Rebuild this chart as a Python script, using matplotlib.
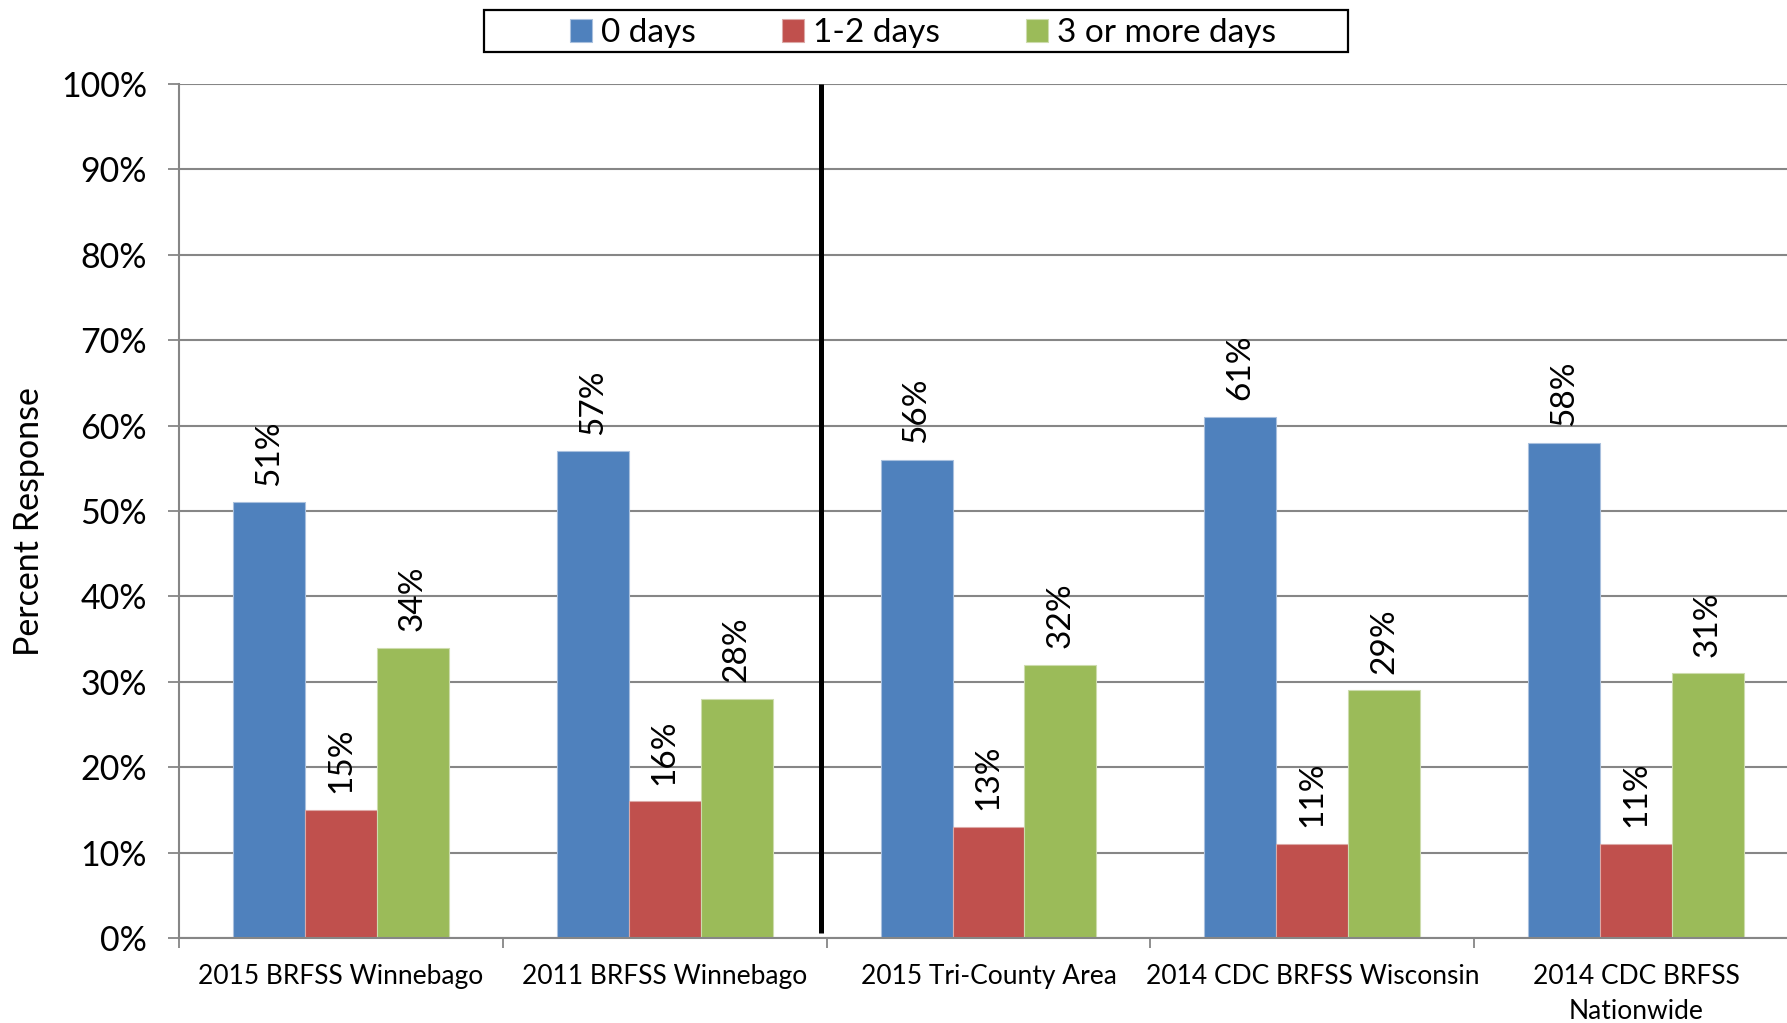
import matplotlib
matplotlib.use("Agg")
import matplotlib.pyplot as plt
import numpy as np
from matplotlib.patches import Rectangle

plt.rcParams['font.family'] = ['Lato', 'DejaVu Sans']

categories = ["2015 BRFSS Winnebago", "2011 BRFSS Winnebago", "2015 Tri-County Area",
              "2014 CDC BRFSS Wisconsin", "2014 CDC BRFSS\nNationwide"]
series_names = ["0 days", "1-2 days", "3 or more days"]
zero_days = [51, 57, 56, 61, 58]
one_two_days = [15, 16, 13, 11, 11]
three_plus_days = [34, 28, 32, 29, 31]
colors = ["#4F81BD", "#C0504D", "#9BBB59"]
edge_colors = ["#a9c0de", "#dca9a7", "#cddcad"]
yticks = [0, 10, 20, 30, 40, 50, 60, 70, 80, 90, 100]

W, H = 1787, 1023
fig = plt.figure(figsize=(W / 100, H / 100), dpi=100)
ax_left, ax_right = 179 / W, 1798 / W
ax_bottom, ax_top = 1 - 938 / H, 1 - 84 / H
ax = fig.add_axes([ax_left, ax_bottom, ax_right - ax_left, ax_top - ax_bottom])

x = np.arange(len(categories))
bw = 0.222
series = [zero_days, one_two_days, three_plus_days]
for i, (vals, name) in enumerate(zip(series, series_names)):
    xs = x + (i - 1) * bw
    ax.bar(xs, vals, width=bw, color=colors[i], edgecolor=edge_colors[i],
           linewidth=0.8, label=name, zorder=2)
    for xi, v in zip(xs, vals):
        ax.annotate(f"{v}%", (xi, v), xytext=(0, 12), textcoords="offset points",
                    rotation=90, ha="center", va="bottom", fontsize=24, zorder=1)

ax.set_xlim(-0.5, len(categories) - 0.5)
ax.set_ylim(0, 100)
ax.set_yticks(yticks)
ax.set_yticklabels([f"{t}%" for t in yticks], fontsize=24.5)
ax.yaxis.grid(True, color="#868686", linewidth=1.5, zorder=0)
ax.set_axisbelow(True)

ax.set_xticks(x)
ax.set_xticklabels(categories, fontsize=19, linespacing=1.5)
ax.set_xticks(np.arange(len(categories) + 1) - 0.5, minor=True)
ax.tick_params(axis='x', which='major', length=0, pad=19)
ax.tick_params(axis='x', which='minor', length=7, width=1.3, color="#868686", direction='out')
ax.tick_params(axis='y', length=8, width=1.3, color="#868686", direction='out', pad=15)

for s in ["top", "right"]:
    ax.spines[s].set_visible(False)
for s in ["left", "bottom"]:
    ax.spines[s].set_color("#868686")
    ax.spines[s].set_linewidth(1.5)

ax.set_ylabel("Percent Response", fontsize=24.5)
ax.yaxis.set_label_coords(-0.083, 0.488)

# divider line between groups
ax.plot([1.482, 1.482], [0.6, 100], color="black", linewidth=3.6, zorder=3,
        solid_capstyle="butt")

# legend
leg = fig.legend(loc="center", bbox_to_anchor=(923 / W, 1 - 33 / H), ncol=3,
                 frameon=False, fontsize=24, handlelength=0.66, handleheight=0.66,
                 handletextpad=0.27, columnspacing=2.6, borderpad=0.1)
fig.patches.append(Rectangle((484 / W, 1 - 52 / H), (1348 - 484) / W, 42 / H,
                             transform=fig.transFigure, fill=False,
                             edgecolor="black", linewidth=1.6))

fig.savefig("out.png", dpi=100)
